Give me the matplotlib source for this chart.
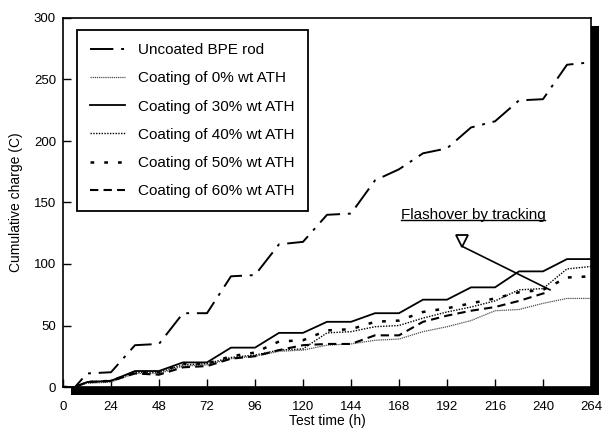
import matplotlib
matplotlib.use("Agg")
from matplotlib import pyplot as plt
from matplotlib.patches import Rectangle
from matplotlib.lines import Line2D

# test time (h) sampled every 12 h (plus 6 h start)
hours = [0, 6, 12, 24, 36, 48, 60, 72, 84, 96, 108, 120, 132, 144, 156, 168,
         180, 192, 204, 216, 228, 240, 252, 264]
hours_60 = [0, 6, 12, 24, 36, 48, 60, 72, 84, 96, 108, 120, 132, 144, 156, 168,
            180, 192, 204, 216, 228, 240, 243]

uncoated = [0, 0, 11, 12, 34, 35, 60, 60, 90, 91, 116, 118, 140, 141, 168, 177,
            190, 194, 211, 216, 233, 234, 262, 264]
ath_0 = [0, 0, 3, 4, 11, 11, 17, 18, 23, 25, 29, 30, 34, 35, 38, 39,
         45, 49, 54, 62, 63, 68, 72, 72]
ath_30 = [0, 0, 4, 5, 13, 13, 20, 20, 32, 32, 44, 44, 53, 53, 60, 60,
          71, 71, 81, 81, 94, 94, 104, 104]
ath_40 = [0, 0, 4, 5, 12, 12, 18, 19, 24, 26, 30, 31, 44, 45, 49, 50,
          56, 61, 65, 70, 79, 80, 96, 98]
ath_50 = [0, 0, 4, 5, 12, 12, 19, 19, 25, 28, 37, 38, 46, 47, 53, 54,
          61, 64, 68, 72, 77, 79, 89, 90]
ath_60 = [0, 0, 4, 5, 11, 10, 16, 17, 23, 25, 30, 34, 35, 35, 42, 42,
          53, 58, 62, 65, 70, 76, 77]

labels = ["Uncoated BPE rod", "Coating of 0% wt ATH", "Coating of 30% wt ATH",
          "Coating of 40% wt ATH", "Coating of 50% wt ATH", "Coating of 60% wt ATH"]
x_ticks = list(range(0, 265, 24))
y_ticks = list(range(0, 301, 50))

plt.rcParams['font.family'] = ['Liberation Sans', 'DejaVu Sans']

fig = plt.figure(figsize=(6.05, 4.34), dpi=100)
ax = fig.add_axes([63 / 605, 47 / 434, 528 / 605, 369 / 434])
ax.set_zorder(2)

# thick scanned "shadow" along right and bottom border
fig.patches.append(Rectangle((71 / 605, 39 / 434), 528 / 605, 369 / 434,
                             transform=fig.transFigure, facecolor='black',
                             edgecolor='none', zorder=0))

ax.plot(hours, uncoated, color='black', lw=1.4, linestyle=(0, (12, 4, 1.5, 4)), label=labels[0])
ax.plot(hours, ath_0, color='0.3', lw=0.9, linestyle=(0, (1, 0.7)), label=labels[1])
ax.plot(hours, ath_30, color='black', lw=1.3, linestyle='-', label=labels[2])
ax.plot(hours, ath_40, color='black', lw=1.0, linestyle=(0, (1, 1)), label=labels[3])
ax.plot(hours, ath_50, color='black', lw=1.8, linestyle=(0, (1.5, 4)), label=labels[4])
ax.plot(hours_60, ath_60, color='black', lw=1.5, linestyle=(0, (4, 2.5)), label=labels[5])

ax.set_xlim(0, 264)
ax.set_ylim(0, 300)
ax.set_xticks(x_ticks)
ax.set_yticks(y_ticks)
ax.tick_params(direction='in', length=6, width=1, labelsize=9.5, pad=10)
ax.tick_params(axis='y', pad=5)
for s in ax.spines.values():
    s.set_linewidth(1.2)

ax.set_xlabel("Test time (h)", fontsize=10, labelpad=1)
ax.set_ylabel("Cumulative charge (C)", fontsize=10, labelpad=8)

leg = ax.legend(loc='upper left', bbox_to_anchor=(0.027, 0.967), fontsize=11,
                frameon=True, fancybox=False, edgecolor='black', framealpha=1,
                handlelength=2.3, labelspacing=0.93, borderpad=0.85,
                handletextpad=0.85, borderaxespad=0)
leg.get_frame().set_linewidth(1.3)

# flashover annotation
ax.plot([200, 243.5], [114, 79], color='black', lw=1.2)
ax.plot([199.5], [119], marker='v', markersize=9, mfc='white', mec='black', mew=1.3)
txt = ax.text(205, 134, "Flashover by tracking", fontsize=11, ha='center', va='bottom')
fig.canvas.draw()
bb = txt.get_window_extent().transformed(ax.transAxes.inverted())
ax.add_line(Line2D([bb.x0, bb.x1], [bb.y0 + 0.005, bb.y0 + 0.005], transform=ax.transAxes,
                   color='black', lw=1))

fig.savefig("out.png", dpi=100)
